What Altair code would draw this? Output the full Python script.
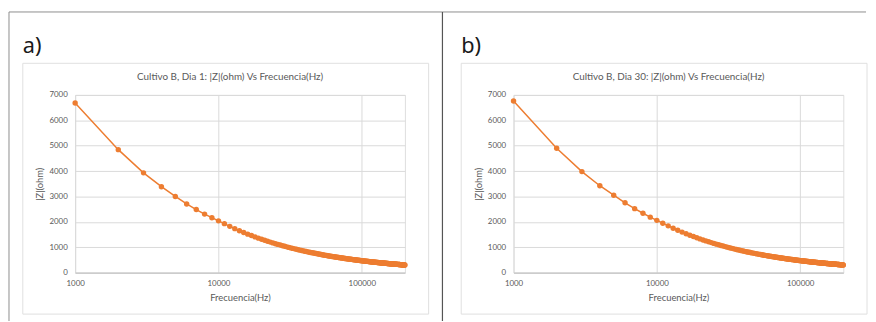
import altair as alt
import pandas as pd

# Frequency sweep (Hz): 1 kHz to 200 kHz in 1 kHz steps
freq_hz = list(range(1000, 200001, 1000))

# |Z| (ohm), Cultivo B, Dia 1
z_dia1 = [
    6680, 4845, 3930, 3385, 3000, 2705, 2485, 2305, 2165, 2040,
    1929, 1824, 1733, 1653, 1581, 1517, 1460, 1407, 1359, 1316,
    1275, 1238, 1203, 1171, 1140, 1112, 1086, 1061, 1037, 1015,
    994, 974, 955, 937, 919, 903, 887, 872, 858, 844,
    831, 818, 806, 794, 783, 772, 761, 751, 741, 732,
    723, 714, 705, 697, 689, 681, 673, 665, 658, 651,
    645, 638, 631, 625, 619, 613, 607, 601, 596, 590,
    585, 580, 574, 569, 564, 560, 555, 551, 546, 542,
    537, 533, 529, 525, 521, 517, 513, 510, 506, 503,
    499, 495, 492, 488, 485, 482, 479, 476, 473, 470,
    467, 464, 461, 458, 455, 452, 450, 447, 445, 442,
    440, 437, 434, 432, 430, 427, 425, 422, 420, 418,
    416, 414, 412, 409, 407, 405, 403, 401, 399, 397,
    395, 393, 391, 390, 388, 386, 384, 382, 380, 378,
    377, 375, 374, 372, 370, 369, 367, 365, 364, 362,
    361, 359, 358, 356, 355, 353, 352, 350, 349, 348,
    346, 345, 344, 342, 341, 340, 338, 337, 336, 334,
    333, 332, 331, 329, 328, 327, 326, 325, 324, 323,
    321, 320, 319, 318, 317, 316, 315, 313, 312, 311,
    310, 309, 308, 307, 306, 305, 304, 303, 302, 301,
]

# |Z| (ohm), Cultivo B, Dia 30
z_dia30 = [
    6760, 4900, 3980, 3424, 3050, 2750, 2520, 2340, 2185, 2060,
    1948, 1842, 1750, 1670, 1597, 1532, 1475, 1421, 1373, 1329,
    1288, 1250, 1215, 1183, 1151, 1123, 1097, 1072, 1047, 1025,
    1004, 984, 965, 946, 928, 912, 896, 881, 867, 852,
    839, 826, 814, 802, 791, 780, 769, 759, 748, 739,
    730, 721, 712, 704, 696, 688, 680, 672, 665, 658,
    651, 644, 637, 631, 625, 619, 613, 607, 602, 596,
    591, 586, 580, 575, 570, 566, 561, 557, 551, 547,
    542, 538, 534, 530, 526, 522, 518, 515, 511, 508,
    504, 500, 497, 493, 490, 487, 484, 481, 478, 475,
    472, 469, 466, 463, 460, 457, 455, 451, 449, 446,
    444, 441, 438, 436, 434, 431, 429, 426, 424, 422,
    420, 418, 416, 413, 411, 409, 407, 405, 403, 401,
    399, 397, 395, 394, 392, 390, 388, 386, 384, 382,
    381, 379, 378, 376, 374, 373, 371, 369, 368, 366,
    365, 363, 362, 360, 359, 357, 356, 354, 352, 351,
    349, 348, 347, 345, 344, 343, 341, 340, 339, 337,
    336, 335, 334, 332, 331, 330, 329, 328, 327, 326,
    324, 323, 322, 321, 320, 319, 318, 316, 315, 314,
    313, 312, 311, 310, 309, 308, 307, 306, 305, 304,
]

x_ticks = [1000, 10000, 100000]
y_ticks = [0, 1000, 2000, 3000, 4000, 5000, 6000, 7000]

panel_titles = [
    "Cultivo B, Dia 1: |Z|(ohm) Vs Frecuencia(Hz)",
    "Cultivo B, Dia 30: |Z|(ohm) Vs Frecuencia(Hz)",
]
panel_labels = ["a)", "b)"]

ORANGE = "#ED7D31"
GRID = "#d9d9d9"
TXT = "#595959"
FONT = "Lato"

one = pd.DataFrame({"k": [0]})


def panel(z, title_text, label, with_frame):
    df = pd.DataFrame({"f": freq_hz, "z": z})
    x = alt.X(
        "f:Q",
        scale=alt.Scale(type="log", domain=[1000, 200000], nice=False),
        axis=alt.Axis(
            values=x_ticks, format="d", title="Frecuencia(Hz)",
            grid=True, gridColor=GRID, domain=True, domainColor="#bfbfbf",
            ticks=False, labelPadding=7, labelFontSize=8, labelColor=TXT,
            labelFlush=False, labelOverlap=False,
            labelFont=FONT, titleFont=FONT, titleFontSize=9.5, titleColor=TXT,
            titleFontWeight="normal", titlePadding=5,
        ),
    )
    y = alt.Y(
        "z:Q",
        scale=alt.Scale(domain=[0, 7000], nice=False),
        axis=alt.Axis(
            values=y_ticks, format="d", title="|Z|(ohm)", grid=True,
            gridColor=GRID, domain=False, ticks=False, labelPadding=8,
            labelFontSize=8, labelFlush=False,
            labelColor=TXT, labelFont=FONT, titleFont=FONT, titleFontSize=9.5,
            titleColor=TXT, titleFontWeight="normal", titlePadding=4,
        ),
    )
    base = alt.Chart(df)
    box = alt.Chart(one).mark_rect(
        fillOpacity=0, stroke="#e0e0e0", strokeWidth=1
    ).encode(x=alt.value(-53), x2=alt.value(358), y=alt.value(-32), y2=alt.value(222))
    line = base.mark_line(color=ORANGE, strokeWidth=1.5).encode(x=x, y=y)
    pts = base.mark_circle(color=ORANGE, size=30, opacity=1).encode(x=x, y=y)
    ttl = alt.Chart(one).mark_text(
        text=title_text, align="center", baseline="middle", fontSize=10,
        font=FONT, color=TXT,
    ).encode(x=alt.value(157), y=alt.value(-18))
    lab = alt.Chart(one).mark_text(
        text=label, align="left", baseline="alphabetic", fontSize=22,
        font="Noto Sans", color="#1a1a1a",
    ).encode(x=alt.value(-53), y=alt.value(-42))
    layers = []
    if with_frame:
        top = alt.Chart(one).mark_rule(color="#8c8c8c", strokeWidth=1).encode(
            x=alt.value(-67), x2=alt.value(801), y=alt.value(-84))
        left = alt.Chart(one).mark_rule(color="#8c8c8c", strokeWidth=1).encode(
            x=alt.value(-67), y=alt.value(-84), y2=alt.value(229))
        div = alt.Chart(one).mark_rule(color="#555555", strokeWidth=1.2).encode(
            x=alt.value(372), y=alt.value(-84), y2=alt.value(229))
        layers = [top, left, div]
    return alt.layer(box, *layers, line, pts, ttl, lab).properties(width=334, height=180)


pa = panel(z_dia1, panel_titles[0], panel_labels[0], True)
pb = panel(z_dia30, panel_titles[1], panel_labels[1], False)

chart = alt.hconcat(pa, pb, spacing=110, bounds="flush", padding=0).configure_view(
    stroke=None
).configure(background="white")

chart.save("out.html", embed_options={"renderer": "svg", "actions": False})
